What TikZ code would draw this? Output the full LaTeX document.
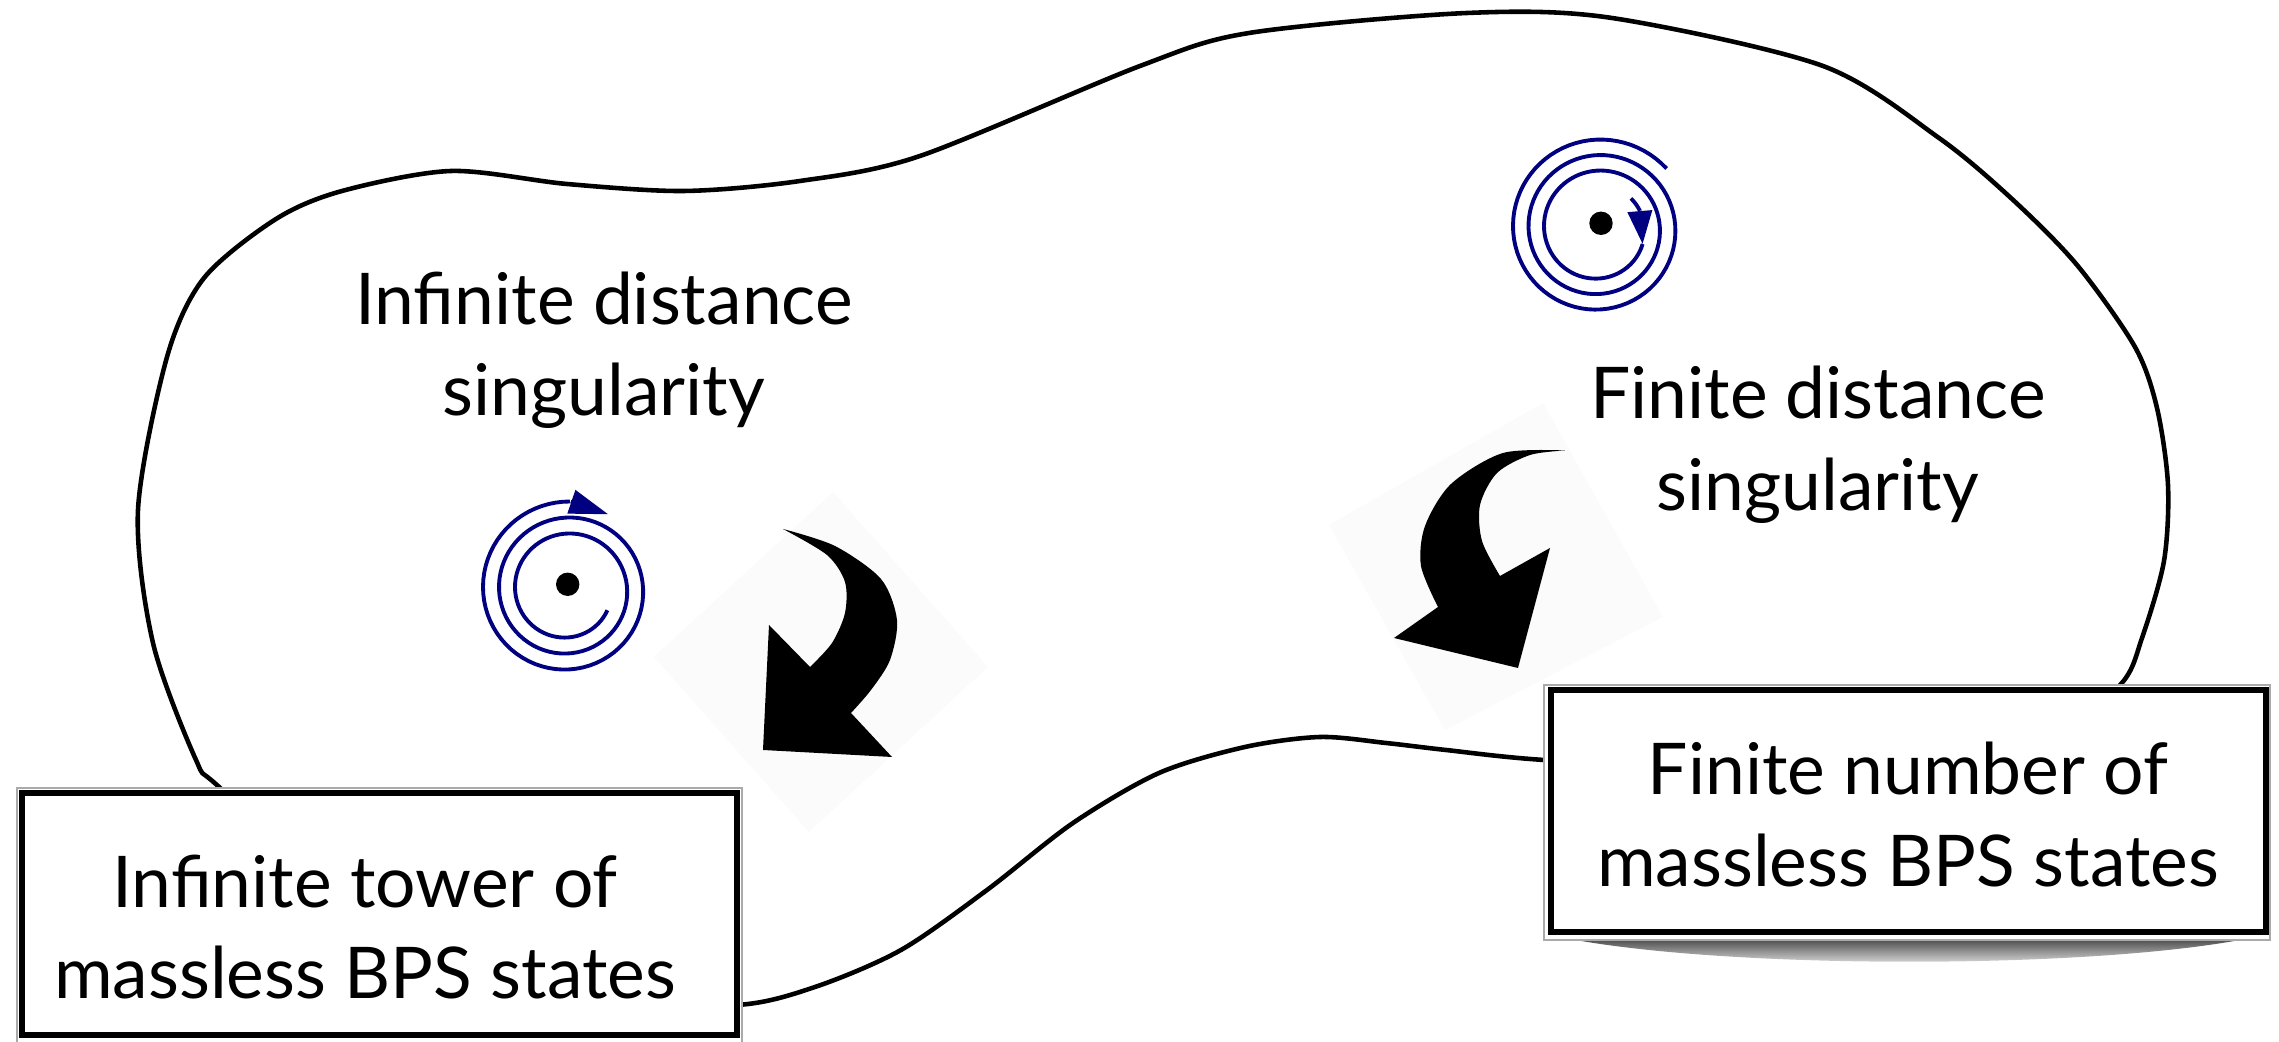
\documentclass[tikz,border=0pt]{standalone}
\usepackage{fontspec}
\setmainfont{Lato}
\usepackage{xcolor}
\usepackage{tikz}
\usetikzlibrary{arrows.meta}
\definecolor{spiralblue}{RGB}{0, 0, 128}
\definecolor{arrowshade}{RGB}{251, 251, 251}
\definecolor{framegray}{RGB}{170, 170, 170}

\begin{document}
\begin{tikzpicture}[
    region/.style={draw=black, line width=1.3pt},
    singtext/.style={align=center, inner sep=0pt, font=\fontsize{20.3pt}{26pt}\selectfont},
    boxtext/.style={align=center, inner sep=0pt, font=\fontsize{20.3pt}{26pt}\selectfont},
    statebox/.style={draw=black, line width=1.5pt, minimum width=7.15cm,
                     minimum height=2.42cm, inner sep=0pt},
    outerframe/.style={draw=framegray, line width=0.8pt, fill=white},
    spiralline/.style={draw=spiralblue, line width=1.1pt},
    sdot/.style={circle, fill=black, minimum size=0.234cm, inner sep=0pt},
    bigarrow/.style={fill=black},
    arrowbg/.style={fill=arrowshade}
]
    \useasboundingbox (0,0) rectangle (22.79,10.42);

    % moduli space
    \draw[region] plot[smooth cycle, tension=0.5] coordinates {
        (7.37,0.37) (8.15,0.55) (9.01,0.92) (9.87,1.52) (10.73,2.19) (11.59,2.69)
        (12.45,2.95) (13.20,3.05) (13.86,2.99) (14.46,2.92) (15.44,2.82)
        (17.50,2.72) (20.50,3.02) (21.21,3.58) (21.42,4.04) (21.64,4.81)
        (21.68,5.57) (21.57,6.34) (21.35,6.95) (20.77,7.77) (20.12,8.43)
        (19.39,9.04) (18.23,9.76) (16.12,10.24) (14.67,10.29) (12.49,10.09)
        (11.40,9.76) (9.20,8.86) (8.00,8.61) (6.84,8.51) (5.67,8.58) (4.51,8.71)
        (3.42,8.51) (2.76,8.23) (2.04,7.64) (1.67,6.85) (1.38,5.32) (1.53,3.99)
        (1.96,2.82) (2.18,2.56) (3.50,1.42) (6.00,0.42)};

    % curved arrows
    \fill[arrowbg] (8.33,5.50) -- (9.88,3.75) -- (8.09,2.10) -- (6.54,3.85) -- cycle;
    \fill[arrowbg] (13.29,5.17) -- (15.43,6.39) -- (16.63,4.25) -- (14.45,3.12) -- cycle;
    \fill[bigarrow] plot[smooth] coordinates {(7.83,5.13) (8.35,4.96) (8.81,4.63)
            (8.97,4.22) (8.90,3.82) (8.71,3.52) (8.51,3.29)}
        -- (8.92,2.85) -- (7.63,2.92) -- (7.69,4.17) -- (8.10,3.75)
        -- plot[smooth] coordinates {(8.10,3.75) (8.32,3.99) (8.45,4.29)
            (8.45,4.60) (8.27,4.87) (7.83,5.13)} -- cycle;
    \fill[bigarrow] plot[smooth] coordinates {(15.65,5.915) (15.03,5.89) (14.51,5.58)
            (14.25,5.16) (14.21,4.76) (14.38,4.35)}
        -- (13.94,4.04) -- (15.18,3.74) -- (15.50,4.94) -- (15.00,4.66)
        -- plot[smooth] coordinates {(15.00,4.66) (14.82,5.01) (14.80,5.37)
            (14.97,5.69) (15.30,5.87) (15.65,5.915)} -- cycle;

    % spirals
    \coordinate (lc) at (5.67,4.55);
    \node[sdot] (ldot) at (5.677,4.577) {};
    \draw[spiralline, shift={(lc)}] plot[domain=0:962, samples=200, variable=\t]
        ({(0.52+0.16*((\t-150)/360-sin(\t-150)/6.2832))*cos(-30-\t)},
         {(0.52+0.16*((\t-150)/360-sin(\t-150)/6.2832))*sin(-30-\t)});
    \draw[spiralline, -{Triangle[length=3.9mm, width=2.4mm]}]
        ([shift={(87.4:0.855)}]lc) -- ([shift={(60.4:0.836)}]lc);

    \coordinate (rc) at (15.98,8.16);
    \node[sdot] (rdot) at (16.01,8.187) {};
    \draw[spiralline, shift={(rc)}] plot[domain=0:20, samples=8, variable=\t]
        ({(0.54+0.155*((\t-220)/360-sin(\t-220)/6.2832))*cos(40-\t)},
         {(0.54+0.155*((\t-220)/360-sin(\t-220)/6.2832))*sin(40-\t)});
    \draw[spiralline, -{Triangle[length=3.3mm, width=2.4mm]}]
        ([shift={(20:0.445)}]rc) -- ([shift={(-22:0.481)}]rc);
    \draw[spiralline, shift={(rc)}] plot[domain=62:1080, samples=220, variable=\t]
        ({(0.54+0.155*((\t-220)/360-sin(\t-220)/6.2832))*cos(40-\t)},
         {(0.54+0.155*((\t-220)/360-sin(\t-220)/6.2832))*sin(40-\t)});

    \node[singtext] (infsing) at (6.04,6.915) {Infinite distance\\singularity};
    \node[singtext] (finsing) at (18.18,5.973) {Finite distance\\singularity};

    % boxes
    \shade[top color=black!75, bottom color=white] (15.6,1.05) -- (22.55,1.05)
        .. controls (21.0,0.72) and (17.2,0.72) .. (15.6,1.05) -- cycle;
    \filldraw[outerframe] (0.17,2.54) rectangle (7.42,-0.05);
    \node[statebox] (towerbox) at (3.795,1.28) {};
    \node[boxtext] (towertext) at (3.65,1.15) {Infinite tower of\\massless BPS states};

    \filldraw[outerframe] (15.44,3.57) rectangle (22.70,1.02);
    \node[statebox] (finitebox) at (19.085,2.311) {};
    \node[boxtext] (finitetext) at (19.08,2.275) {Finite number of\\massless BPS states};
\end{tikzpicture}
\end{document}
